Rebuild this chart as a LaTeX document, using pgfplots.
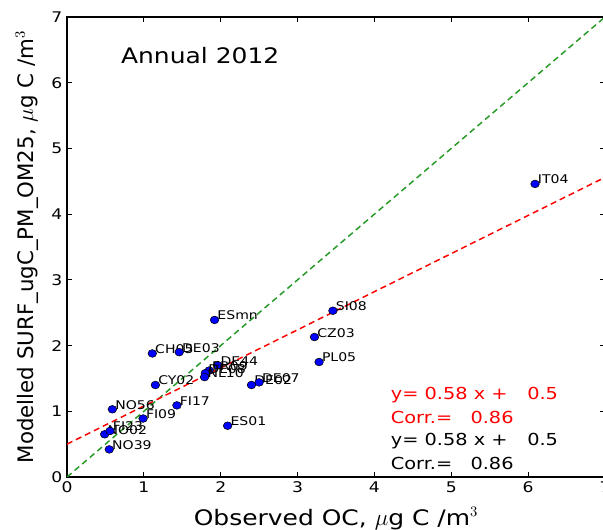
\documentclass[border=0pt]{standalone}
\usepackage{fontspec}
\setmainfont{DejaVu Sans}[FakeStretch=1.17]
\newfontfamily\ylabfont{DejaVu Sans}
\usepackage{pgfplots}
\usepackage{pgfplotstable}
\pgfplotsset{compat=1.18}
\pgfplotstableread{
x y label
6.09 4.46 IT04
3.46 2.53 SI08
3.22 2.13 CZ03
3.28 1.75 PL05
1.92 2.39 ESmn
1.11 1.88 CH05
1.46 1.90 DE03
1.96 1.70 DE44
1.85 1.62 FR09
1.80 1.58 DE08
1.79 1.52 NL10
2.40 1.40 DE02
2.50 1.44 DE07
1.15 1.40 CY02
1.43 1.09 FI17
2.09 0.78 ES01
0.59 1.03 NO56
0.99 0.89 FI09
0.49 0.65 NO02
0.56 0.70 FI23
0.55 0.42 NO39
}\sites
\definecolor{mplgreen}{rgb}{0.15,0.6,0.15}
\begin{document}
\begin{tikzpicture}
\begin{axis}[
  at={(50.25pt,39.75pt)}, anchor=south west,
  scale only axis, width=403.5pt, height=345pt,
  xmin=0, xmax=7, ymin=0, ymax=7,
  xtick={0,...,7}, ytick={0,...,7},
  tick align=inside, major tick length=3.75pt,
  xtick pos=both, ytick pos=both,
  axis line style={black, line width=0.8pt},
  tick style={black, line width=0.6pt},
  /pgf/number format/assume math mode=true,
  tick label style={font=\fontsize{11}{13}\selectfont},
  xlabel={Observed OC, $\mu$g C /m$^3$},
  ylabel={\ylabfont Modelled SURF\_ugC\_PM\_OM25, $\mu$g C /m$^3$},
  label style={font=\fontsize{16}{18}\selectfont},
  xlabel style={yshift=-4pt},
  ylabel style={yshift=3pt},
  clip=true,
]
\addplot[mplgreen, dashed, line width=1.1pt, dash pattern=on 4.5pt off 3pt] coordinates {(0,0) (7,7)};
\addplot[red, dashed, line width=1.1pt, dash pattern=on 4.5pt off 3pt] coordinates {(0,0.5) (7,4.56)};
\addplot[only marks, mark=*, mark size=2.9pt, mark options={fill=blue, draw=black, line width=0.4pt, xscale=1.12},
  nodes near coords, point meta=explicit symbolic,
  nodes near coords style={anchor=base west, inner sep=0pt, xshift=2pt, font=\fontsize{9}{10}\selectfont, text=black}]
  table[x=x, y=y, meta=label] {\sites};
\node[anchor=base west, inner sep=0pt, font=\fontsize{16}{18}\selectfont] at (axis cs:0.70,6.286) {Annual 2012};
\node[anchor=base west, inner sep=0pt, font=\fontsize{12.4}{14}\selectfont, text=red] at (axis cs:4.21,1.172) {y= 0.58 x +};
\node[anchor=base west, inner sep=0pt, font=\fontsize{12.4}{14}\selectfont, text=red] at (axis cs:5.985,1.172) {0.5};
\node[anchor=base west, inner sep=0pt, font=\fontsize{12.4}{14}\selectfont, text=red] at (axis cs:4.21,0.817) {Corr.=};
\node[anchor=base west, inner sep=0pt, font=\fontsize{12.4}{14}\selectfont, text=red] at (axis cs:5.247,0.817) {0.86};
\node[anchor=base west, inner sep=0pt, font=\fontsize{12.4}{14}\selectfont] at (axis cs:4.21,0.472) {y= 0.58 x +};
\node[anchor=base west, inner sep=0pt, font=\fontsize{12.4}{14}\selectfont] at (axis cs:5.985,0.472) {0.5};
\node[anchor=base west, inner sep=0pt, font=\fontsize{12.4}{14}\selectfont] at (axis cs:4.21,0.117) {Corr.=};
\node[anchor=base west, inner sep=0pt, font=\fontsize{12.4}{14}\selectfont] at (axis cs:5.247,0.117) {0.86};
\end{axis}
\pgfresetboundingbox
\path (0,0) rectangle (452.25pt,397.5pt);
\end{tikzpicture}
\end{document}
